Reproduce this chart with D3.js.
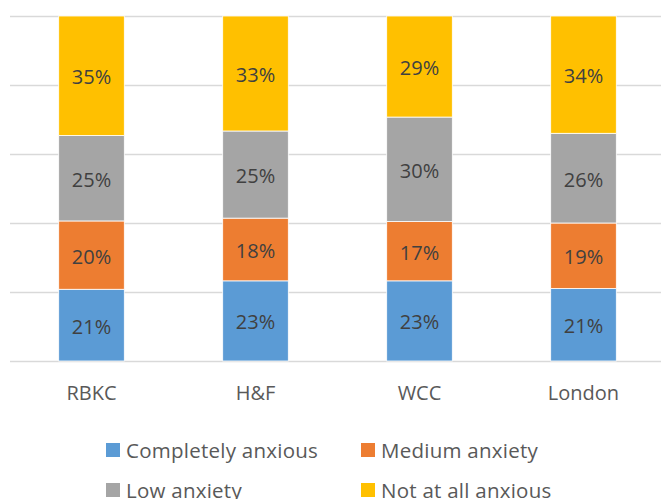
<!DOCTYPE html>
<html>
<head>
<meta charset="utf-8">
<script src="https://cdn.jsdelivr.net/npm/d3@7"></script>
<style>
  html, body { margin: 0; padding: 0; background: #fff; }
  svg { display: block; font-family: "Open Sans", sans-serif; }
</style>
</head>
<body>
<svg id="chart" width="661" height="499"></svg>
<script>
// Areas surveyed
const categories = ["RBKC", "H&F", "WCC", "London"];

// Share of respondents per anxiety level (percent)
const completelyAnxious = [21, 23, 23, 21];
const mediumAnxiety     = [20, 18, 17, 19];
const lowAnxiety        = [25, 25, 30, 26];
const notAtAllAnxious   = [35, 33, 29, 34];

const seriesNames  = ["Completely anxious", "Medium anxiety", "Low anxiety", "Not at all anxious"];
const seriesValues = [completelyAnxious, mediumAnxiety, lowAnxiety, notAtAllAnxious];
const seriesColors = ["#5B9BD5", "#ED7D31", "#A5A5A5", "#FFC000"];

const gridTicks = [0, 0.2, 0.4, 0.6, 0.8, 1];

// Build rows for d3.stack
const rows = categories.map((c, i) => {
  const r = { category: c };
  seriesNames.forEach((s, k) => { r[s] = seriesValues[k][i]; });
  return r;
});

const stacked = d3.stack()
  .keys(seriesNames)
  .offset(d3.stackOffsetExpand)(rows);

const svg = d3.select("#chart");

const x = d3.scaleBand()
  .domain(categories)
  .range([9.5, 665.5])
  .paddingInner(0.6)
  .paddingOuter(0.3);

const y = d3.scaleLinear().domain([0, 1]).range([361, 16]);

// Horizontal gridlines
svg.append("g")
  .selectAll("line")
  .data(gridTicks)
  .join("line")
  .attr("x1", 10)
  .attr("x2", 661)
  .attr("y1", d => Math.round(y(d)) + 0.5)
  .attr("y2", d => Math.round(y(d)) + 0.5)
  .attr("stroke", "#D9D9D9")
  .attr("stroke-width", 1.3);

// Stacked bars
const layers = svg.append("g")
  .selectAll("g")
  .data(stacked)
  .join("g")
  .attr("fill", (d, i) => seriesColors[i]);

layers.selectAll("rect")
  .data(d => d)
  .join("rect")
  .attr("x", d => x(d.data.category))
  .attr("width", x.bandwidth())
  .attr("y", d => y(d[1]))
  .attr("height", d => y(d[0]) - y(d[1]))
  .attr("stroke", "#fff")
  .attr("stroke-width", 0.8);

// Value labels in each segment
const labels = svg.append("g");
stacked.forEach(layer => {
  labels.selectAll(null)
    .data(layer)
    .join("text")
    .attr("x", d => x(d.data.category) + x.bandwidth() / 2)
    .attr("y", d => (y(d[0]) + y(d[1])) / 2 + 8.5)
    .attr("text-anchor", "middle")
    .attr("font-size", 20)
    .attr("fill", "#404040")
    .text(d => d.data[layer.key] + "%");
});

// Category axis labels
svg.append("g")
  .selectAll("text")
  .data(categories)
  .join("text")
  .attr("x", d => x(d) + x.bandwidth() / 2)
  .attr("y", 399.5)
  .attr("text-anchor", "middle")
  .attr("font-size", 20)
  .attr("fill", "#595959")
  .text(d => d);

// Legend (two columns, two rows)
const legendX = [106, 361];
const legendY = [443, 483];
const legend = svg.append("g")
  .selectAll("g")
  .data(seriesNames)
  .join("g")
  .attr("transform", (d, i) => `translate(${legendX[i % 2]},${legendY[Math.floor(i / 2)]})`);

legend.append("rect")
  .attr("width", 14)
  .attr("height", 14)
  .attr("fill", (d, i) => seriesColors[i]);

legend.append("text")
  .attr("x", 20)
  .attr("y", 14.5)
  .attr("font-size", 20.5)
  .attr("letter-spacing", 0.25)
  .attr("fill", "#595959")
  .text(d => d);
</script>
</body>
</html>
